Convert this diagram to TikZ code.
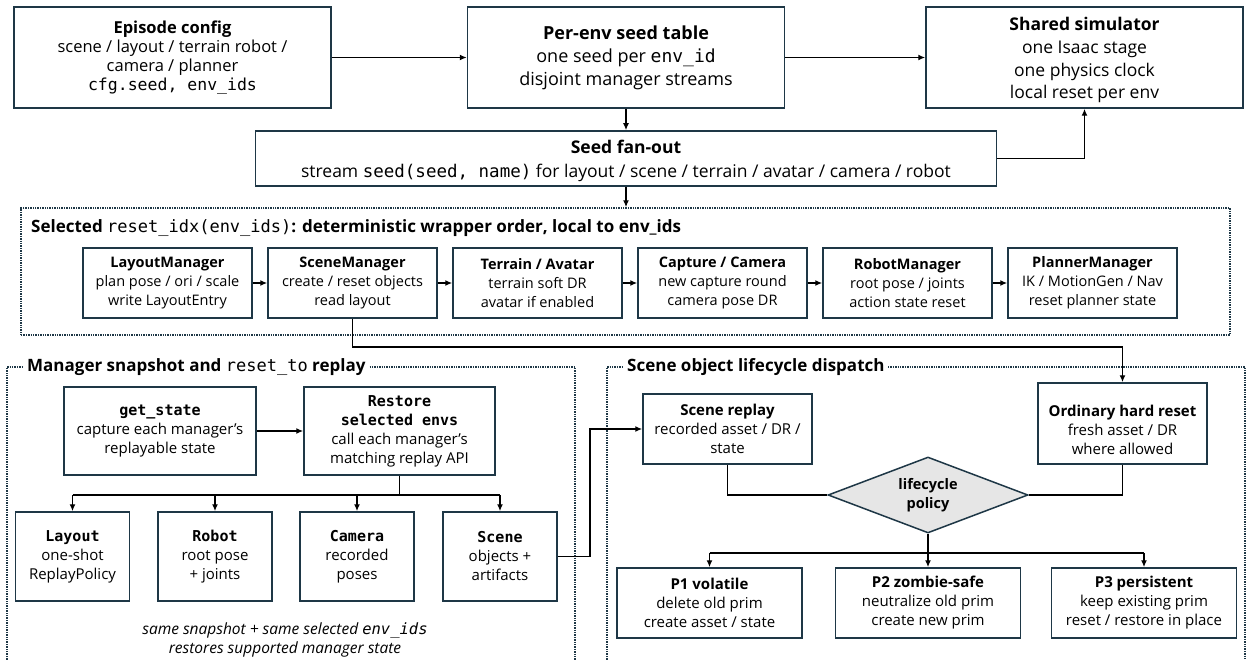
\documentclass[tikz,border=0pt]{standalone}
\usepackage{fontspec}
\setmainfont{Open Sans}
\setmonofont{DejaVu Sans Mono}[Scale=1.0]
\usetikzlibrary{arrows.meta,shapes.geometric}
\definecolor{myEdge}{RGB}{30,55,70}
\definecolor{myGray}{RGB}{230,230,230}
\tikzset{
  box/.style={draw=myEdge,line width=1.5pt,fill=white,align=center,inner sep=2pt,
    font=\fontsize{15}{19}\selectfont},
  bigbox/.style={box,minimum width=317,minimum height=101,font=\fontsize{16.5}{19}\selectfont},
  mgr/.style={box,minimum width=169,minimum height=70,font=\fontsize{14.5}{19}\selectfont},
  sbox/.style={box,minimum width=114,minimum height=89},
  pbox/.style={box,minimum width=185,minimum height=70},
  grp/.style={draw=myEdge,line width=1.4pt,densely dotted},
  gtitle/.style={anchor=west,fill=white,inner sep=3pt,font=\fontsize{17}{19}\selectfont},
  arr/.style={line width=1.8pt,-{Latex[length=7pt,width=6pt]}},
  ln/.style={line width=1.8pt},
}

\begin{document}
\begin{tikzpicture}[x=1pt,y=-1pt]
                \useasboundingbox (0,0) rectangle (1250,660);

                \node[bigbox] (cfg) at (172.5,57.5) {\textbf{Episode config}\\scene / layout / terrain robot /\\camera / planner\\\texttt{cfg.seed, env\_ids}};
                \node[bigbox,font=\fontsize{18}{23}\selectfont] (seedtab) at (626,57.5) {\textbf{Per-env seed table}\\one seed per \texttt{env\_id}\\disjoint manager streams};
                \node[bigbox,font=\fontsize{17.5}{22.7}\selectfont] (sim) at (1084.5,57.5) {\rule{0pt}{19pt}\textbf{Shared simulator}\\one Isaac stage\\one physics clock\\local reset per env};
                \node[bigbox,minimum width=741,minimum height=55,font=\fontsize{17.5}{24}\selectfont] (fanout) at (626,158.5) {\rule{0pt}{19pt}\textbf{Seed fan-out}\\stream \texttt{seed(seed, name)} for layout / scene / terrain / avatar / camera / robot};

                \node[grp,minimum width=1209,minimum height=127] (grpreset) at (625.5,271.5) {};
                \node[gtitle,fill=none] (resettitle) at (28,228) {\textbf{Selected} \texttt{reset\_idx(env\_ids)}\textbf{: deterministic wrapper order, local to env\_ids}};

                \node[mgr] (mlayout) at (167.5,283) {\textbf{LayoutManager}\\plan pose / ori / scale\\write LayoutEntry};
                \node[mgr] (mscene) at (352.5,283) {\textbf{SceneManager}\\create / reset objects\\read layout};
                \node[mgr] (mterrain) at (537.5,283) {\textbf{Terrain / Avatar}\\terrain soft DR\\avatar if enabled};
                \node[mgr] (mcamera) at (722.5,283) {\textbf{Capture / Camera}\\new capture round\\camera pose DR};
                \node[mgr] (mrobot) at (907.5,283) {\textbf{RobotManager}\\root pose / joints\\action state reset};
                \node[mgr] (mplanner) at (1092.5,283) {\textbf{PlannerManager}\\IK / MotionGen / Nav\\reset planner state};

                \draw[grp] (7,662) -- (7,367) -- (575,367) -- (575,662);
                \draw[grp] (607,662) -- (607,367) -- (1245,367) -- (1245,662);
                \node[gtitle] (snaptitle) at (24,367) {\textbf{Manager snapshot and} \texttt{reset\_to} \textbf{replay}};
                \node[gtitle] (lifetitle) at (624,367) {\textbf{Scene object lifecycle dispatch}};

                \node[box,minimum width=192,minimum height=88] (getstate) at (160,431) {\texttt{\textbf{get\_state}}\\capture each manager’s\\replayable state};
                \node[box,minimum width=191,minimum height=88] (restore) at (399.5,431) {\texttt{\textbf{Restore}}\\\texttt{\textbf{selected envs}}\\call each manager’s\\matching replay API};
                \node[sbox] (rlayout) at (72.5,556.5) {\texttt{\textbf{Layout}}\\one-shot\\ReplayPolicy};
                \node[sbox] (rrobot) at (215,556.5) {\texttt{\textbf{Robot}}\\root pose\\+ joints};
                \node[sbox] (rcamera) at (357,556.5) {\texttt{\textbf{Camera}}\\recorded\\poses};
                \node[sbox] (rscene) at (500,556.5) {\texttt{\textbf{Scene}}\\objects +\\artifacts};
                \node[align=center,font=\fontsize{15.5}{19}\selectfont\itshape] (note) at (285,640) {same snapshot + same selected \texttt{env\_ids}\\restores supported manager state};

                \node[box,minimum width=169,minimum height=70] (sreplay) at (727.5,429) {\textbf{Scene replay}\\recorded asset / DR /\\state};
                \node[box,minimum width=169,minimum height=81] (hard) at (1122.5,423.5) {\rule{0pt}{25pt}\textbf{Ordinary hard reset}\\fresh asset / DR\\where allowed};
                \node[diamond,aspect=2.6,draw=myEdge,line width=1.5pt,fill=myGray,minimum width=200,minimum height=76,inner sep=0pt,align=center,font=\fontsize{14.5}{19}\selectfont\bfseries] (policy) at (928,495) {lifecycle\\policy};
                \node[pbox] (p1) at (709.5,603) {\textbf{P1 volatile}\\delete old prim\\create asset / state};
                \node[pbox] (p2) at (928,603) {\textbf{P2 zombie-safe}\\neutralize old prim\\create new prim};
                \node[pbox] (p3) at (1144,603) {\textbf{P3 persistent}\\keep existing prim\\reset / restore in place};

                \draw[arr] (cfg) -- (seedtab);
                \draw[arr] (seedtab) -- (sim);
                \draw[arr] (seedtab) -- (fanout);
                \draw[arr] (fanout.east) -| (sim.south);
                \draw[arr] (fanout.south) -- (fanout.south |- grpreset.north);
                \foreach \a/\b in {mlayout/mscene,mscene/mterrain,mterrain/mcamera,mcamera/mrobot,mrobot/mplanner}
                    \draw[arr] (\a) -- (\b);
                \draw[arr] (mscene.south) |- ([yshift=35]hard.north) -- (hard.north);

                \draw[arr] (getstate) -- (restore);
                \coordinate (rfork) at (399.5,495);
                \draw[ln] (restore.south) -- (rfork);
                \draw[ln] (rlayout.north |- rfork) -- (rscene.north |- rfork);
                \foreach \n in {rlayout,rrobot,rcamera,rscene}
                    \draw[arr] (\n.north |- rfork) -- (\n.north);
                \draw[arr] (rscene.east) -- ++(32,0) |- (sreplay.west);

                \draw[ln] (sreplay.south) |- (policy.west);
                \draw[ln] (hard.south) |- (policy.east);
                \coordinate (pfork) at (928,553);
                \draw[ln] (policy.south) -- (pfork);
                \draw[ln] (p1.north |- pfork) -- (p3.north |- pfork);
                \foreach \n in {p1,p2,p3}
                    \draw[arr] (\n.north |- pfork) -- (\n.north);
            \end{tikzpicture}
\end{document}
